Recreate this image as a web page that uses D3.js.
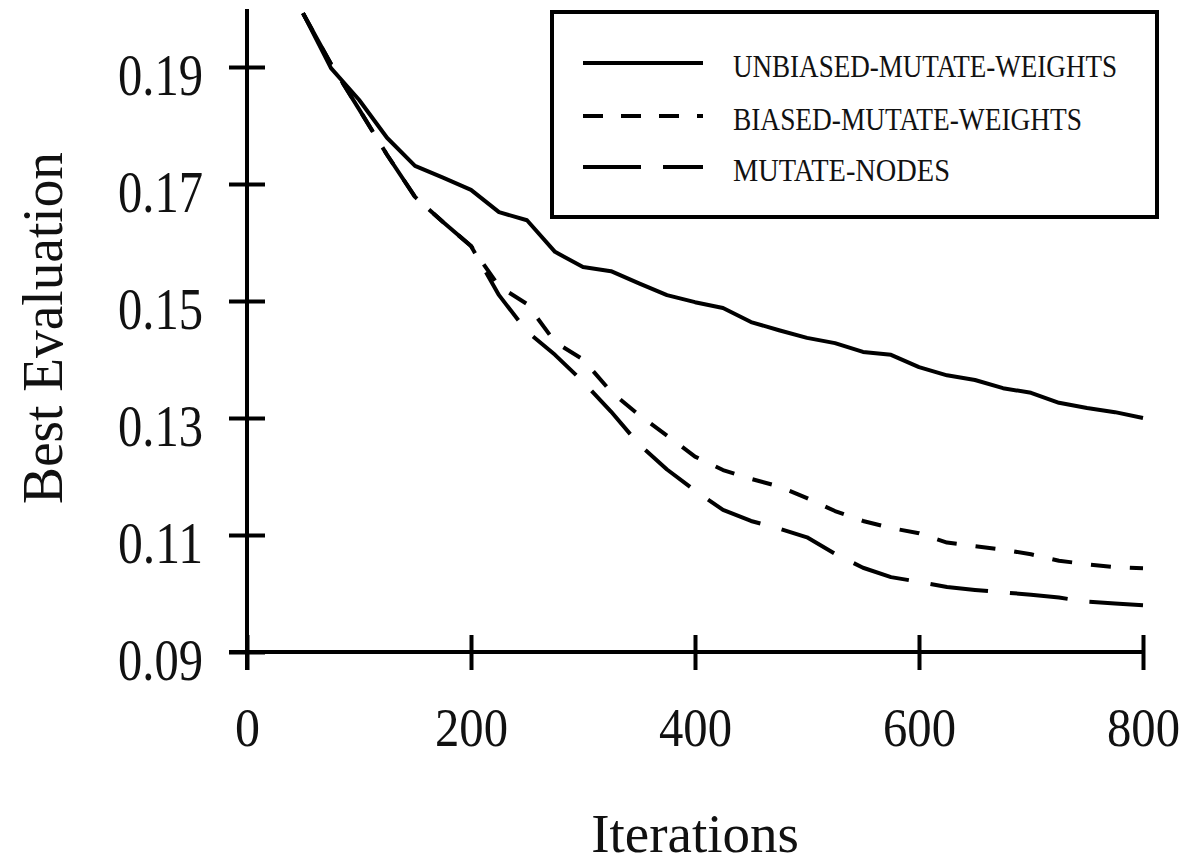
<!DOCTYPE html>
<html>
<head>
<meta charset="utf-8">
<script src="https://cdn.jsdelivr.net/npm/d3@7"></script>
<style>
  html, body { margin: 0; padding: 0; background: #fff; }
  svg { display: block; }
  text { font-family: "Liberation Serif", "Times New Roman", serif; fill: #111; }
</style>
</head>
<body>
<svg id="chart" width="1187" height="865"></svg>
<script>
// ---- data ----
const iterations = [50,75,100,125,150,175,200,225,250,275,300,325,350,375,400,425,450,475,500,525,550,575,600,625,650,675,700,725,750,775,800];
const unbiasedMutateWeights = [0.1992,0.1898,0.1844,0.1779,0.1731,0.1711,0.1690,0.1652,0.1638,0.1584,0.1558,0.1551,0.1530,0.1510,0.1498,0.1488,0.1464,0.1450,0.1437,0.1428,0.1413,0.1408,0.1387,0.1373,0.1365,0.1351,0.1343,0.1326,0.1317,0.1310,0.1300];
const biasedMutateWeights = [0.1992,0.1905,0.1828,0.1750,0.1678,0.1635,0.1594,0.1525,0.1495,0.1430,0.1400,0.1345,0.1305,0.1270,0.1234,0.1211,0.1196,0.1183,0.1163,0.1141,0.1124,0.1112,0.1103,0.1087,0.1081,0.1075,0.1067,0.1056,0.1050,0.1045,0.1043];
const mutateNodes = [0.1992,0.1905,0.1828,0.1750,0.1678,0.1635,0.1594,0.1510,0.1448,0.1408,0.1362,0.1311,0.1255,0.1212,0.1176,0.1143,0.1124,0.1111,0.1096,0.1068,0.1044,0.1028,0.1020,0.1011,0.1006,0.1002,0.0998,0.0993,0.0986,0.0983,0.0980];
const seriesNames = ["UNBIASED-MUTATE-WEIGHTS","BIASED-MUTATE-WEIGHTS","MUTATE-NODES"];
const xTicks = [0,200,400,600,800];
const yTicks = [0.09,0.11,0.13,0.15,0.17,0.19];
const xTitle = "Iterations";
const yTitle = "Best Evaluation";

// ---- layout ----
const svg = d3.select("#chart");
const x = d3.scaleLinear().domain([0, 800]).range([247, 1143]);
const y = d3.scaleLinear().domain([0.09, 0.20]).range([652, 8.5]);
const stroke = "#000";
const dashes = [null, "20,19", "58,22"];
const seriesData = [unbiasedMutateWeights, biasedMutateWeights, mutateNodes];

// axes lines
svg.append("line").attr("x1", x(0)).attr("x2", x(0)).attr("y1", 9).attr("y2", 670)
  .attr("stroke", stroke).attr("stroke-width", 4);
svg.append("line").attr("x1", 229).attr("x2", x(800)).attr("y1", y(0.09)).attr("y2", y(0.09))
  .attr("stroke", stroke).attr("stroke-width", 4);

// x axis (d3 axis, ticks crossing)
const gx = svg.append("g").attr("transform", `translate(0,${y(0.09)})`)
  .call(d3.axisBottom(x).tickValues(xTicks).tickFormat(d3.format("d")).tickSizeOuter(0));
gx.select(".domain").remove();
gx.selectAll(".tick line").attr("y1", -17).attr("y2", 18).attr("stroke", stroke).attr("stroke-width", 4);
gx.selectAll(".tick text").attr("y", 94).attr("dy", null)
  .style("font-family", '"Liberation Serif", serif').style("font-size", "54px").attr("fill", "#111")
  .attr("textLength", d => d === 0 ? 25 : 73).attr("lengthAdjust", "spacingAndGlyphs");

// y axis
const gy = svg.append("g").attr("transform", `translate(${x(0)},0)`)
  .call(d3.axisLeft(y).tickValues(yTicks).tickFormat(d3.format(".2f")).tickSizeOuter(0));
gy.select(".domain").remove();
gy.selectAll(".tick line").attr("x1", -18).attr("x2", 18).attr("stroke", stroke).attr("stroke-width", 4);
gy.selectAll(".tick text").attr("x", -44).attr("dy", "0.46em")
  .style("font-family", '"Liberation Serif", serif').style("font-size", "60px").attr("fill", "#111")
  .attr("textLength", 85).attr("lengthAdjust", "spacingAndGlyphs");

// titles
svg.append("text").attr("x", (x(0) + x(800)) / 2).attr("y", 852).attr("text-anchor", "middle")
  .style("font-size", "55px").text(xTitle);
svg.append("text").attr("transform", "translate(62,328) rotate(-90)").attr("text-anchor", "middle")
  .style("font-size", "58px").attr("textLength", 352).attr("lengthAdjust", "spacingAndGlyphs").text(yTitle);

// series
const line = d3.line().x((d, i) => x(iterations[i])).y(d => y(d));
seriesData.forEach((s, k) => {
  svg.append("path").datum(s).attr("d", line).attr("fill", "none").attr("stroke", stroke)
    .attr("stroke-width", 4).attr("stroke-linejoin", "round")
    .attr("stroke-dasharray", dashes[k]);
});

// legend
svg.append("rect").attr("x", 552).attr("y", 12).attr("width", 605).attr("height", 205)
  .attr("fill", "#fff").attr("stroke", stroke).attr("stroke-width", 4);
const legY = [63, 116, 167];
const legText = [384, 349, 217];
seriesNames.forEach((name, k) => {
  svg.append("line").attr("x1", 583).attr("x2", 703).attr("y1", legY[k]).attr("y2", legY[k])
    .attr("stroke", stroke).attr("stroke-width", 4).attr("stroke-dasharray", k === 1 ? "20,18" : dashes[k]);
  svg.append("text").attr("x", 733).attr("y", legY[k] + 14).style("font-size", "32px")
    .attr("textLength", legText[k]).attr("lengthAdjust", "spacingAndGlyphs").text(name);
});
</script>
</body>
</html>
